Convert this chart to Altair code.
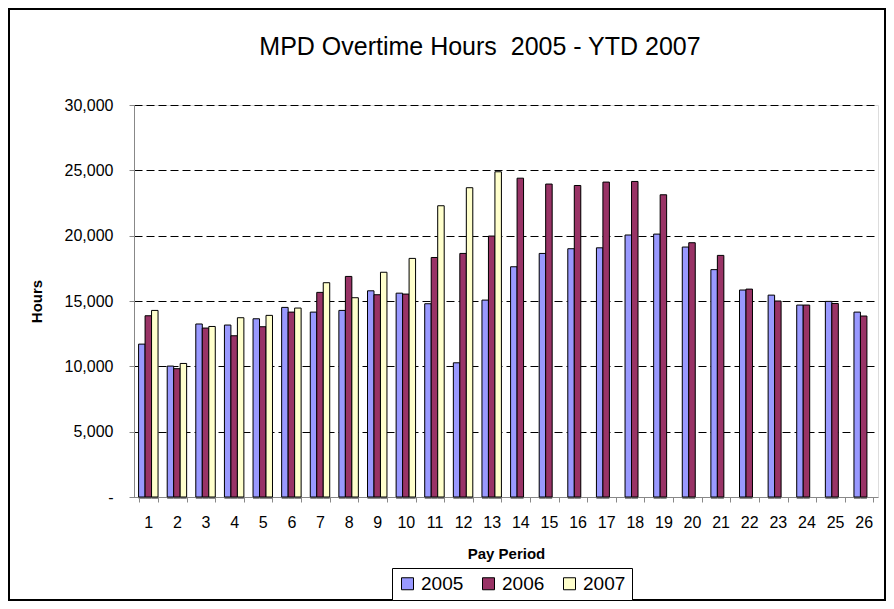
import altair as alt
import pandas as pd

periods = [str(i) for i in range(1, 27)]
years = ["2005", "2006", "2007"]
colors = ["#9999FF", "#993366", "#FFFFCC"]

v2005 = [11700, 10020, 13240, 13160, 13640, 14510, 14150, 14280, 15780, 15600,
         14790, 10270, 15070, 17620, 18640, 19000, 19070, 20050, 20120, 19130,
         17400, 15840, 15450, 14690, 14970, 14150]
v2006 = [13870, 9820, 12930, 12340, 13030, 14150, 15660, 16880, 15480, 15530,
         18330, 18640, 19970, 24400, 23950, 23840, 24100, 24150, 23130, 19460,
         18490, 15910, 15000, 14690, 14810, 13850]
v2007 = [14280, 10220, 13050, 13720, 13900, 14460, 16400, 15250, 17200, 18260,
         22290, 23670, 24890]

y_ticks = [0, 5000, 10000, 15000, 20000, 25000, 30000]
title_text = "MPD Overtime Hours\u00a0 2005 - YTD 2007"

rows = []
for series, yr in zip([v2005, v2006, v2007], years):
    for p, v in zip(periods, series):
        rows.append({"period": p, "year": yr, "hours": v})
df = pd.DataFrame(rows)

FONT = "Liberation Sans"

x_enc = alt.X("period:N", sort=periods,
              scale=alt.Scale(paddingInner=0.32, paddingOuter=0.16),
              axis=alt.Axis(title="Pay Period", labelAngle=0, tickBand="extent",
                            labelFontSize=16, labelPadding=12,
                            titleFontSize=15, titleFontWeight="bold",
                            titleX=372, titleY=61, titleBaseline="alphabetic",
                            grid=False))
xo_enc = alt.XOffset("year:N", sort=years, scale=alt.Scale(domain=years))
y_enc = alt.Y("hours:Q", scale=alt.Scale(domain=[0, 30000], nice=False),
              axis=alt.Axis(title="Hours", values=y_ticks,
                            labelExpr="datum.value == 0 ? '-' : format(datum.value, ',')",
                            labelFontSize=16, labelPadding=16,
                            titleFontSize=15, titleFontWeight="bold",
                            titleAngle=270, titleX=-98, titleY=196,
                            titleAlign="center", titleBaseline="middle",
                            grid=True, gridColor="black", gridDash=[8, 4],
                            gridWidth=1))

shadow = alt.Chart(df).mark_bar(color="#8c8c8c", xOffset=2, x2Offset=2,
                                yOffset=2, y2Offset=0).encode(
    x=x_enc, xOffset=xo_enc, y=y_enc
)

bars = alt.Chart(df).mark_bar(stroke="black", strokeWidth=1).encode(
    x=x_enc, xOffset=xo_enc, y=y_enc,
    color=alt.Color("year:N", sort=years,
                    scale=alt.Scale(domain=years, range=colors),
                    legend=alt.Legend(title=None, orient="none",
                                      legendX=258, legendY=463,
                                      direction="horizontal",
                                      strokeColor="black", padding=6,
                                      fillColor="white",
                                      symbolType="square", symbolSize=144,
                                      symbolStrokeColor="black",
                                      symbolStrokeWidth=1, symbolOpacity=1,
                                      labelFontSize=19, labelOffset=4,
                                      columnPadding=15, labelColor="black",
                                      labelFont=FONT)),
)

one = pd.DataFrame({"a": [0]})
border = alt.Chart(one).mark_rect(fillOpacity=0, stroke="black", strokeWidth=2).encode(
    x=alt.value(-125), x2=alt.value(751), y=alt.value(-96), y2=alt.value(495)
)
title = alt.Chart(one).mark_text(fontSize=25, font=FONT, align="center",
                                 baseline="alphabetic", color="black").encode(
    x=alt.value(346), y=alt.value(-50), text=alt.value(title_text)
)

chart = alt.layer(border, title, shadow, bars).properties(
    width=744, height=392,
    autosize=alt.AutoSizeParams(type="none"),
    padding={"left": 126, "top": 97, "right": 8, "bottom": 104},
).configure_view(stroke="black", strokeWidth=1).configure_axis(
    domainColor="black", domainWidth=1, tickColor="black", tickSize=6,
    labelColor="black", titleColor="black", labelFont=FONT, titleFont=FONT,
).configure(background="white")

chart.save("out.html", embed_options={"renderer": "svg", "actions": False})
